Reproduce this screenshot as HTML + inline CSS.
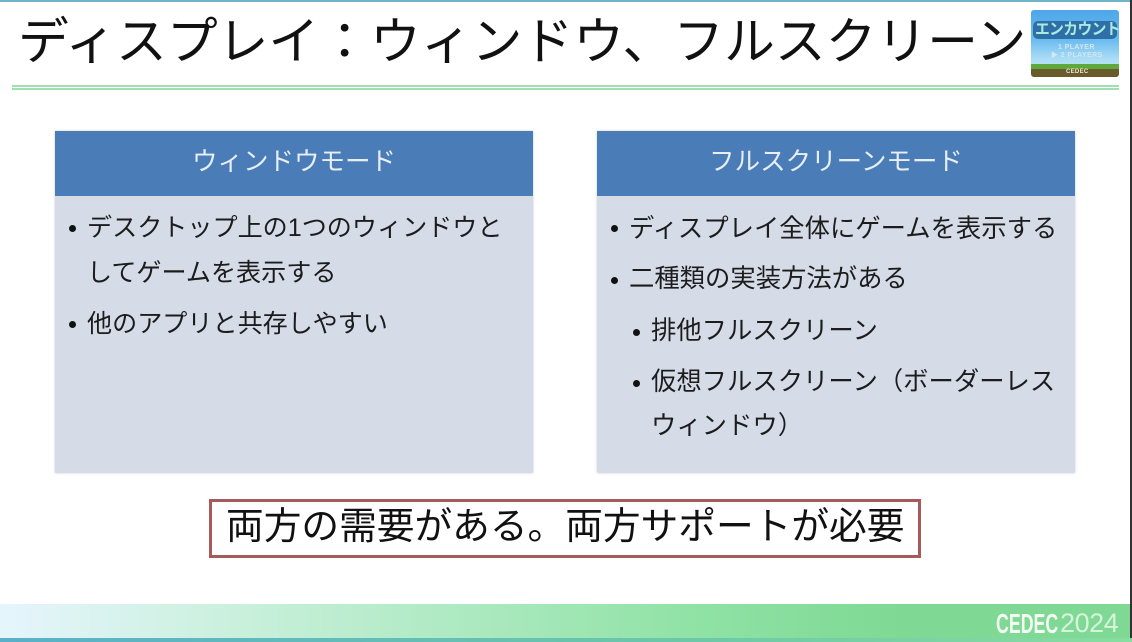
<!DOCTYPE html>
<html lang="ja"><head><meta charset="utf-8">
<style>
html,body{margin:0;padding:0;background:#fff}
#s{position:relative;width:1132px;height:642px;overflow:hidden;background:#fff;font-family:"Liberation Sans","Noto Sans CJK JP",sans-serif;color:#111}
#s div{position:absolute}
.t{white-space:nowrap;line-height:1;font-size:25.1px;color:#1c1c1c}
.r{font-size:25.35px}
.b{width:7px;height:7px;border-radius:50%;background:#111}
.h{color:#e8eef6;text-align:center;font-size:25.5px;line-height:1;white-space:nowrap}
.p{box-shadow:0 0 2px rgba(120,130,150,.45);border-radius:1px}
</style></head><body>
<div id="s">
<div style="left:0;top:0;width:1132px;height:2px;background:#6fb4c8"></div>
<div style="left:1130px;top:0;width:2px;height:642px;background:#333"></div>
<div class="t" style="left:18px;top:17px;font-size:50.8px;color:#111">ディスプレイ：ウィンドウ、フルスクリーン</div>

<div style="left:1031px;top:10px;width:88px;height:67px;border-radius:3px;background:linear-gradient(#4da6e8 0,#6cbcf0 45%,#a9dcf5 72%,#b5e2f5 82%);overflow:hidden">
  <div style="left:2px;top:11px;width:84px;height:18px;background:#2f6fa8;border-radius:5px"></div>
  <div class="t" style="left:4px;top:12px;font-size:15.5px;font-weight:bold;color:#a9ecdf;letter-spacing:-.6px;transform-origin:0 0;transform:scaleX(.95)">エンカウント</div>
  <div class="t" style="left:27px;top:34px;font-size:7px;font-weight:bold;color:#d5e6ee;letter-spacing:.4px">1 PLAYER</div>
  <div class="t" style="left:20px;top:42px;font-size:7px;font-weight:bold;color:#d5e6ee;letter-spacing:.4px">▶ 2 PLAYERS</div>
  <div style="left:0;top:58px;width:88px;height:9px;background:#6b5a2c"></div>
  <div style="left:0;top:54px;width:88px;height:5px;background:#5ea83c"></div>
  <div class="t" style="left:35px;top:59px;font-size:6px;font-weight:bold;color:#e6e6d6;letter-spacing:.3px">CEDEC</div>
</div>

<div style="left:12px;top:85px;width:1107px;height:1.5px;background:#9fe0ae"></div>
<div style="left:12px;top:88px;width:1107px;height:2px;background:#9fe0ae"></div>

<div class="p" style="left:55px;top:131px;width:478px;height:342px;background:#d5dce8"></div>
<div style="left:55px;top:131px;width:478px;height:65px;background:#4a7db8"></div>
<div class="h" style="left:55px;top:150px;width:478px">ウィンドウモード</div>

<div class="p" style="left:597px;top:131px;width:478px;height:342px;background:#d5dce8"></div>
<div style="left:597px;top:131px;width:478px;height:65px;background:#4a7db8"></div>
<div class="h" style="left:597px;top:150px;width:478px">フルスクリーンモード</div>

<div class="b" style="left:69px;top:225px"></div>
<div class="t" style="left:87px;top:216px">デスクトップ上の1つのウィンドウと</div>
<div class="t" style="left:87px;top:261px">してゲームを表示する</div>
<div class="b" style="left:69px;top:321px"></div>
<div class="t" style="left:87px;top:312px">他のアプリと共存しやすい</div>

<div class="b" style="left:611px;top:225px"></div>
<div class="t r" style="left:629px;top:217px">ディスプレイ全体にゲームを表示する</div>
<div class="b" style="left:611px;top:277px"></div>
<div class="t r" style="left:629px;top:267px">二種類の実装方法がある</div>
<div class="b" style="left:633px;top:329px"></div>
<div class="t r" style="left:651px;top:319px">排他フルスクリーン</div>
<div class="b" style="left:633px;top:380px"></div>
<div class="t r" style="left:651px;top:370px">仮想フルスクリーン（ボーダーレス</div>
<div class="t r" style="left:651px;top:414px">ウィンドウ）</div>

<div style="left:209px;top:499px;width:712px;height:59px;box-sizing:border-box;border:3px solid #a85a5a;background:#fff"></div>
<div class="t" style="left:226px;top:508px;font-size:37.7px;color:#111">両方の需要がある。両方サポートが必要</div>

<div style="left:0;top:604px;width:1130px;height:34px;background:linear-gradient(90deg,#e6f5fd 0,#c9f0dc 240px,#8fe2a4 700px,#7fd994 900px)"></div>
<div style="left:0;top:638px;width:1132px;height:4px;background:linear-gradient(90deg,#5ab0c8 0,#6cc8a8 700px,#88dda0 1132px)"></div>
<div class="t" style="left:996px;top:610px;font-size:28px;font-weight:bold;color:#f2fbf4;transform-origin:0 0;transform:scaleX(.635)">CEDEC</div>
<div class="t" style="left:1060px;top:610px;font-size:27px;color:#d6f4dc;letter-spacing:-.45px">2024</div>
</div>
</body></html>
